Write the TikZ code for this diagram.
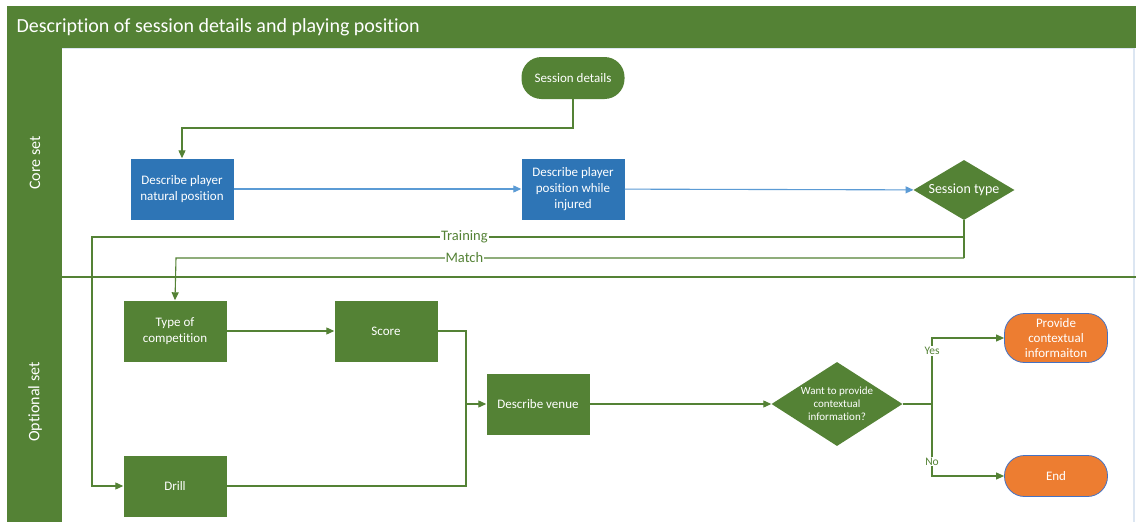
\documentclass[tikz,border=0pt]{standalone}
\usepackage{fontspec}
\setmainfont{Carlito}[Ligatures=NoCommon]
\usetikzlibrary{arrows.meta,shapes.geometric,positioning}
\definecolor{ogreen}{HTML}{548235}
\definecolor{oblue}{HTML}{2E75B6}
\definecolor{lblue}{HTML}{5B9BD5}
\definecolor{oorange}{HTML}{ED7D31}
\definecolor{edgeblue}{HTML}{4472C4}
\definecolor{paleblue}{HTML}{DCE6F2}
\tikzset{
  box/.style={rectangle, fill=#1, text=white, minimum width=103pt, minimum height=61pt,
    align=center, inner sep=2pt, font=\fontsize{13}{16}\selectfont},
  pill/.style={rectangle, rounded corners=20pt, fill=#1, text=white, minimum width=103pt,
    align=center, inner sep=2pt, font=\fontsize{13}{16}\selectfont},
  decision/.style={diamond, fill=ogreen, inner sep=0pt},
  dtext/.style={text=white, align=center, inner sep=0pt},
  flow/.style={draw=ogreen, line width=1.1pt, -{Triangle[length=8pt,width=7pt]}},
  plain/.style={draw=ogreen, line width=1.1pt},
  bflow/.style={draw=lblue, line width=1.1pt, -{Triangle[length=8pt,width=7pt]}},
  branch/.style={text=ogreen, fill=white, inner sep=1pt, font=\fontsize{14.5}{16}\selectfont},
  smallbranch/.style={text=ogreen, fill=white, inner sep=1pt, font=\fontsize{11.5}{13}\selectfont},
  lanelabel/.style={text=white, rotate=90, font=\fontsize{16}{18}\selectfont},
}
\begin{document}
\begin{tikzpicture}[x=1pt,y=-1pt]
\useasboundingbox (0,0) rectangle (1136,522);
% lane frame
\fill[white] (0,0) rectangle (1136,522);
\draw[paleblue, line width=1.5pt] (62,48) -- (1134,48) -- (1134,522);
% title bar and lane header column
\fill[ogreen] (7,6) rectangle (1136,48);
\fill[ogreen] (7,48) rectangle (62,522);
\node[anchor=west, text=white, font=\fontsize{20}{22}\selectfont] (title) at (13,27)
  {Description of session details and playing position};
\node[lanelabel] (core) at (35,163) {Core set};
\node[lanelabel] (opt) at (35,402) {Optional set};
% lane separator
\draw[ogreen, line width=1.4pt] (62,277) -- (1136,277);

% core set nodes
\node[pill=ogreen, minimum height=42pt] (sess) at (573,78) {Session details};
\node[box=oblue] (nat) at (182,189) {Describe player\\natural position};
\node[box=oblue] (inj) at (573,189) {Describe player\\position while\\injured};
\node[decision, minimum width=101pt, minimum height=60pt] (stype) at (964,190) {};
\node[dtext, font=\fontsize{14}{16}\selectfont] (stypetext) at (stype.center) {Session type};

% optional set nodes
\node[box=ogreen] (comp) at (175,331) {Type of\\competition};
\node[box=ogreen] (score) at (386,331) {Score};
\node[box=ogreen] (venue) at (538,404) {Describe venue};
\node[box=ogreen] (drill) at (175,486) {Drill};
\node[decision, minimum width=131pt, minimum height=84pt] (want) at (837,404) {};
\node[dtext, font=\fontsize{11}{13}\selectfont] (wanttext) at (want.center)
  {Want to provide\\contextual\\information?};
\node[pill=oorange, draw=edgeblue, line width=0.8pt, minimum height=49pt,
  font=\fontsize{13}{15}\selectfont] (ctx) at (1056,338) {Provide\\contextual\\informaiton};
\node[pill=oorange, draw=edgeblue, line width=0.8pt, minimum height=41pt] (end) at (1056,476) {End};

% routing points
\coordinate (sdrop) at (573,128);
\coordinate (ntop) at (182,128);
\coordinate (tr) at (964,237);
\coordinate (trl) at (92,237);
\coordinate (trd) at (92,486);
\coordinate (ma) at (964,258);
\coordinate (mal) at (176,258);
\coordinate (joinx) at (466,404);
\coordinate (fork) at (932,404);

% connectors
\draw[flow] (sess.south) -- (sdrop) -- (ntop) -- (nat.north);
\draw[bflow] (nat) -- (inj);
\draw[bflow] (inj) -- (stype);
\draw[plain] (stype.south) -- (ma);
\draw[flow] (tr) -- node[branch, pos=0.573] {Training} (trl) -- (trd) -- (drill.west);
\draw[flow] (ma) -- node[branch, pos=0.634] {Match} (mal) -- (comp.north);
\draw[flow] (comp) -- (score);
\draw[flow] (score.east) -| (joinx) -- (venue.west);
\draw[plain] (drill.east) -| (joinx);
\draw[flow] (venue) -- (want);
\draw[plain] (want.east) -- (fork);
\draw[flow] (fork) |- node[smallbranch, pos=0.4] {Yes} (ctx.west);
\draw[flow] (fork) |- node[smallbranch, pos=0.4] {No} (end.west);
\end{tikzpicture}
\end{document}
